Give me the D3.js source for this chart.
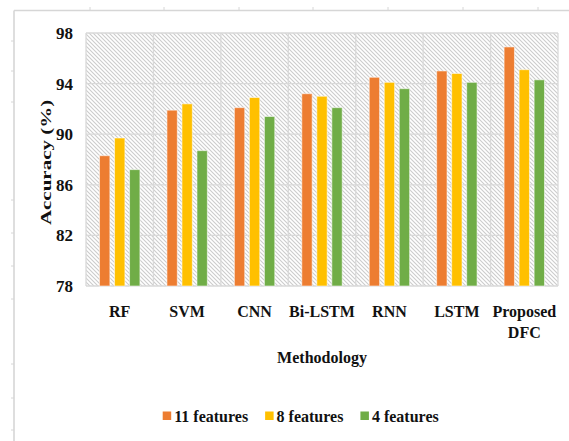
<!DOCTYPE html>
<html><head><meta charset="utf-8">
<script src="https://cdn.jsdelivr.net/npm/d3@7/dist/d3.min.js"></script>
<style>body{margin:0;background:#fff;}</style>
</head><body>
<svg id="c" width="569" height="441"></svg>
<script>
const categories = ["RF","SVM","CNN","Bi-LSTM","RNN","LSTM","Proposed DFC"];
const seriesNames = ["11 features","8 features","4 features"];
const features11 = [88.3, 91.9, 92.1, 93.2, 94.5, 95.0, 96.9];
const features8  = [89.7, 92.4, 92.9, 93.0, 94.1, 94.8, 95.1];
const features4  = [87.2, 88.7, 91.4, 92.1, 93.6, 94.1, 94.3];
const yTicks = [78, 82, 86, 90, 94, 98];
const colors = ["#ED7D31", "#FFC000", "#70AD47"];

const seriesValues = [features11, features8, features4];
const svg = d3.select("#c");
const W = 569, H = 441;
const m = {left: 86, right: 558, top: 33, bottom: 286};
const FONT = "Liberation Serif, DejaVu Serif Condensed, serif";

// decorative page frame (ruler-like)
const frame = svg.append("g").attr("stroke", "#d6d6d6").attr("fill", "none");
frame.append("line").attr("x1", 14).attr("x2", W).attr("y1", 10.5).attr("y2", 10.5).attr("stroke-width", 1.6);
frame.append("line").attr("x1", 14).attr("x2", 14).attr("y1", 10.5).attr("y2", H).attr("stroke-width", 1.6);
[90,164,239,313,388,463,538].forEach(x => frame.append("line").attr("x1", x).attr("x2", x).attr("y1", 7).attr("y2", 10).attr("stroke-width", 1));
[41,71,102,200,233,266,299,364,398,430].forEach(y => frame.append("line").attr("x1", 11).attr("x2", 14).attr("y1", y).attr("y2", y).attr("stroke-width", 1));

// hatch pattern
const defs = svg.append("defs");
const pat = defs.append("pattern").attr("id", "hatch").attr("patternUnits", "userSpaceOnUse")
  .attr("width", 4).attr("height", 4);
pat.append("rect").attr("width", 4).attr("height", 4).attr("fill", "#fff");
pat.append("path").attr("d", "M-1,-1 L5,5 M-1,3 L1,5 M3,-1 L5,1").attr("stroke", "#cccccc").attr("stroke-width", 1.1);

const x = d3.scaleBand().domain(categories).range([m.left, m.right]).paddingInner(0).paddingOuter(0);
const x1 = d3.scaleBand().domain(seriesNames).range([-20.2, 20.2]).paddingInner(0.31).paddingOuter(0);
const y = d3.scaleLinear().domain([78, 98]).range([m.bottom, m.top]);

svg.append("rect").attr("x", m.left).attr("y", m.top).attr("width", m.right - m.left).attr("height", m.bottom - m.top)
  .attr("fill", "url(#hatch)");

// gridlines
const grid = svg.append("g").attr("stroke", "#d9d9d9").attr("stroke-width", 1.3);
yTicks.forEach(t => grid.append("line").attr("x1", m.left).attr("x2", m.right).attr("y1", y(t)).attr("y2", y(t)));
categories.forEach(c => grid.append("line").attr("x1", x(c)).attr("x2", x(c)).attr("y1", m.top).attr("y2", m.bottom));
grid.append("line").attr("x1", m.right).attr("x2", m.right).attr("y1", m.top).attr("y2", m.bottom);

// bars
categories.forEach((c, i) => {
  const cx = x(c) + x.bandwidth() / 2;
  seriesNames.forEach((s, j) => {
    const v = seriesValues[j][i];
    svg.append("rect")
      .attr("x", cx + x1(s)).attr("width", x1.bandwidth())
      .attr("y", y(v)).attr("height", y(78) - y(v))
      .attr("fill", colors[j]).attr("stroke", "rgba(255,255,255,0.55)").attr("stroke-width", 1);
  });
});

// y axis labels
const yAxis = svg.append("g").attr("transform", `translate(${m.left},0)`)
  .call(d3.axisLeft(y).tickValues(yTicks).tickSize(0).tickPadding(13).tickFormat(d3.format("d")));
yAxis.attr("font-family", FONT);
yAxis.select(".domain").remove();
yAxis.selectAll("text").style("font-family", FONT).style("font-weight", "bold").style("font-size", "17px").attr("fill", "#111");

// x axis labels
const xl = svg.append("g");
categories.forEach(c => {
  const t = xl.append("text").attr("x", x(c) + x.bandwidth() / 2).attr("y", 317)
    .attr("text-anchor", "middle").style("font-family", FONT).style("font-weight", "bold").style("font-size", "16px").attr("fill", "#111");
  const parts = c === "Proposed DFC" ? ["Proposed", "DFC"] : [c];
  parts.forEach((p, k) => t.append("tspan").attr("x", x(c) + x.bandwidth() / 2).attr("dy", k ? 21 : 0).text(p));
});

// axis titles
svg.append("text").attr("x", (m.left + m.right) / 2).attr("y", 363).attr("text-anchor", "middle")
  .style("font-family", FONT).style("font-weight", "bold").style("font-size", "16px").attr("fill", "#111").text("Methodology");
svg.append("text").attr("transform", "translate(50.5,162.5) rotate(-90) scale(1,0.72)").attr("text-anchor", "middle")
  .style("font-family", FONT).style("font-weight", "bold").style("font-size", "21px").attr("fill", "#111").text("Accuracy (%)");

// legend
const lg = svg.append("g");
let lx = 162.7;
seriesNames.forEach((s, j) => {
  lg.append("rect").attr("x", lx).attr("y", 411.5).attr("width", 8.5).attr("height", 8.5).attr("fill", colors[j]);
  const t = lg.append("text").attr("x", lx + 11.5).attr("y", 421.5)
    .style("font-family", FONT).style("font-weight", "bold").style("font-size", "16px").attr("fill", "#111").text(s);
  lx += 11.5 + t.node().getComputedTextLength() + 17;
});
</script>
</body></html>
